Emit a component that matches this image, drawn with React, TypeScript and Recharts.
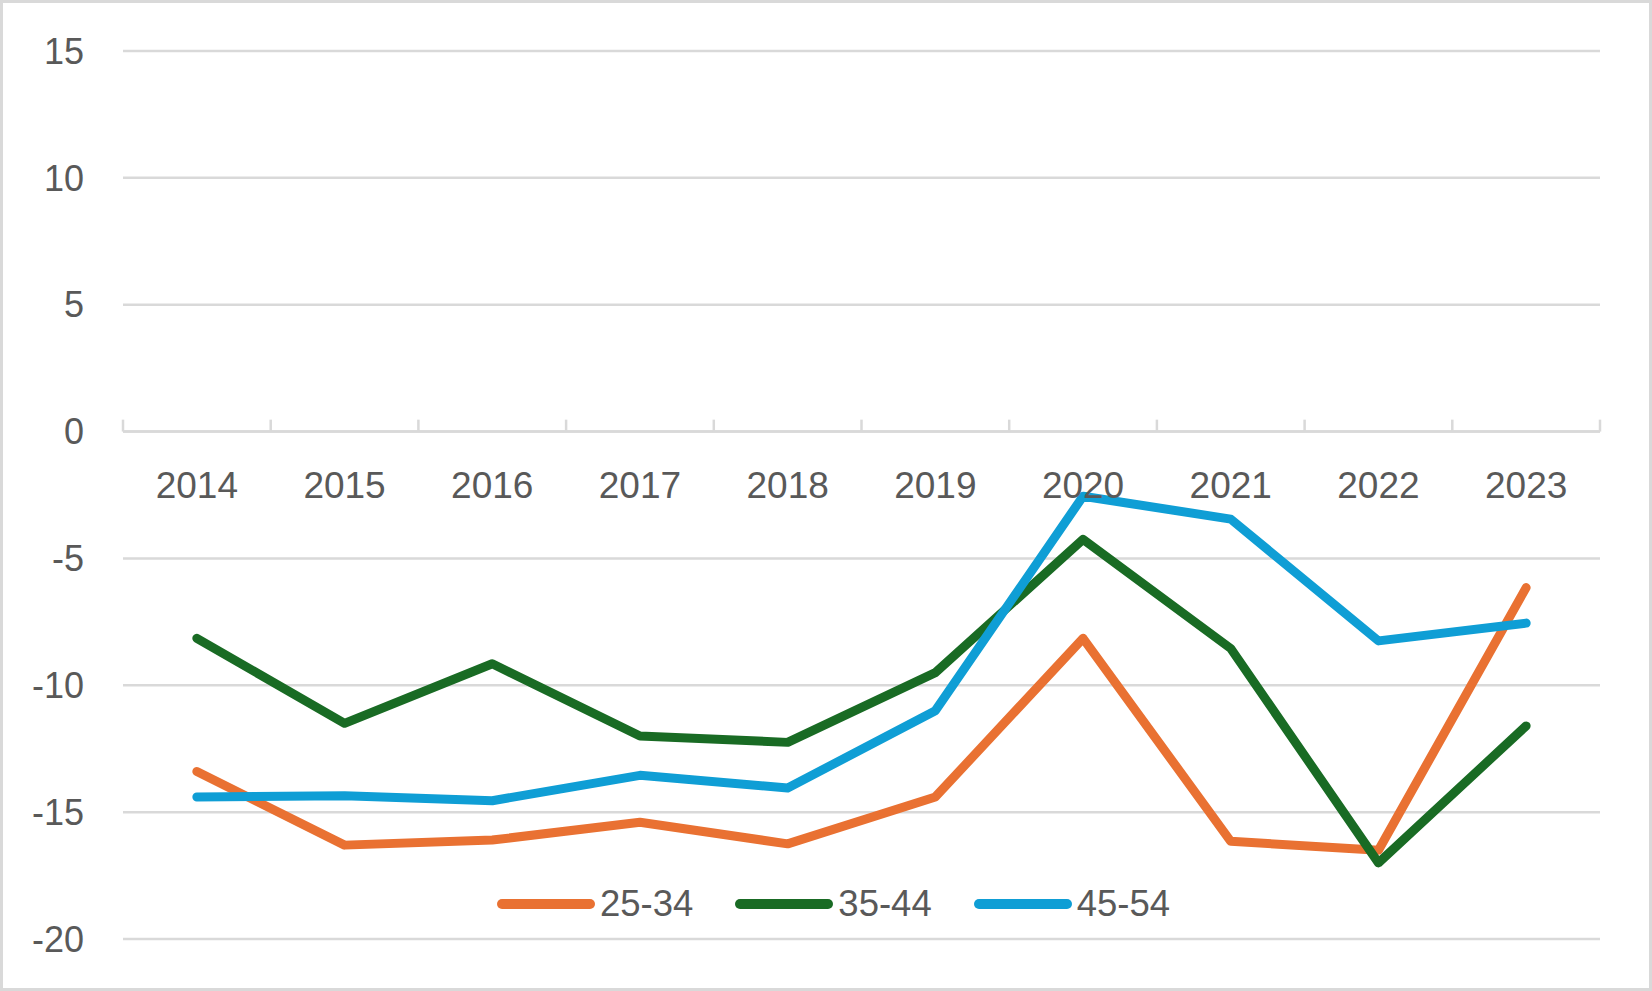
import React from "react";
import { LineChart, Line, XAxis, YAxis, CartesianGrid, ReferenceLine, Legend } from "recharts";

const years = ["2014", "2015", "2016", "2017", "2018", "2019", "2020", "2021", "2022", "2023"];
const s2534 = [-13.4, -16.3, -16.1, -15.4, -16.25, -14.4, -8.15, -16.15, -16.5, -6.15];
const s3544 = [-8.15, -11.5, -9.15, -12.0, -12.25, -9.5, -4.25, -8.55, -17.0, -11.6];
const s4554 = [-14.4, -14.35, -14.55, -13.55, -14.05, -11.0, -2.55, -3.45, -8.25, -7.55];
const yTicks = [-20, -15, -10, -5, 0, 5, 10, 15];

const data = years.map((y, i) => ({ x: i + 0.5, year: y, a: s2534[i], b: s3544[i], c: s4554[i] }));
const xCenters = years.map((_, i) => i + 0.5);
const boundaries = years.map((_, i) => i).concat([years.length]);

const W = 1652;
const H = 991;
const PLOT_TOP = 51;
const PLOT_BOTTOM = 939;
const PLOT_LEFT = 123;
const PLOT_RIGHT = 1600;
const Y_MIN = -20;
const Y_MAX = 15;
const FONT = "'Liberation Sans', Arial, sans-serif";
const TEXT = "#595959";
const GRID = "#d9d9d9";

const zeroY = PLOT_TOP + ((Y_MAX - 0) / (Y_MAX - Y_MIN)) * (PLOT_BOTTOM - PLOT_TOP);

const XTick = (props: any) => {
  const { x, payload } = props;
  const idx = Math.floor(Number(payload && payload.value));
  return (
    <text x={x} y={zeroY + 53} dy="0.355em" textAnchor="middle" fill={TEXT} fontSize={37} fontFamily={FONT}>
      {years[idx]}
    </text>
  );
};

const LegendContent = (props: any) => {
  const payload = props.payload || [];
  return (
    <div style={{ display: "flex", alignItems: "center", paddingLeft: 497, height: 40 }}>
      {payload.map((p: any, i: number) => (
        <div key={i} style={{ display: "flex", alignItems: "center", marginRight: 42 }}>
          <svg width={98} height={14} style={{ display: "block" }}>
            <line x1={5} y1={7} x2={93} y2={7} stroke={p.color} strokeWidth={10} strokeLinecap="round" />
          </svg>
          <span style={{ fontFamily: FONT, fontSize: 36.5, color: TEXT, marginLeft: 5, lineHeight: "40px" }}>{p.value}</span>
        </div>
      ))}
    </div>
  );
};

export default function App() {
  const yAxisWidth = 80;
  return (
    <div style={{ position: "absolute", left: 0, top: 0, width: W, height: H, background: "#fff" }}>
      <LineChart
        width={W}
        height={H}
        data={data}
        margin={{ top: PLOT_TOP, bottom: H - PLOT_BOTTOM - 1, left: PLOT_LEFT - yAxisWidth, right: W - PLOT_RIGHT }}
      >
        <CartesianGrid vertical={false} stroke={GRID} strokeWidth={2.5} />
        <XAxis
          type="number"
          dataKey="x"
          domain={[0, 10]}
          ticks={xCenters}
          axisLine={false}
          tickLine={false}
          height={1}
          tick={<XTick />}
          interval={0}
        />
        <YAxis
          type="number"
          domain={[Y_MIN, Y_MAX]}
          ticks={yTicks}
          width={yAxisWidth}
          axisLine={false}
          tickLine={false}
          tickSize={0}
          tickMargin={39}
          interval={0}
          tick={{ fill: TEXT, fontSize: 36, fontFamily: FONT }}
        />
        <ReferenceLine y={0} stroke={GRID} strokeWidth={2.5} />
        {boundaries.map((b) => (
          <ReferenceLine key={b} segment={[{ x: b, y: 0 }, { x: b, y: 0.47 }]} stroke={GRID} strokeWidth={2.5} />
        ))}
        <Line type="linear" dataKey="a" name="25-34" stroke="#E97132" strokeWidth={9} dot={false} strokeLinecap="round" strokeLinejoin="round" isAnimationActive={false} />
        <Line type="linear" dataKey="b" name="35-44" stroke="#196B24" strokeWidth={9} dot={false} strokeLinecap="round" strokeLinejoin="round" isAnimationActive={false} />
        <Line type="linear" dataKey="c" name="45-54" stroke="#0F9ED5" strokeWidth={9} dot={false} strokeLinecap="round" strokeLinejoin="round" isAnimationActive={false} />
        <Legend
          layout="horizontal"
          verticalAlign="middle"
          align="center"
          content={<LegendContent />}
          wrapperStyle={{ position: "absolute", top: 884, left: 0, width: W, height: 40 }}
        />
      </LineChart>
      <div style={{ position: "absolute", left: 0, top: 0, width: W, height: H, boxSizing: "border-box", border: `3px solid ${GRID}`, pointerEvents: "none" }} />
    </div>
  );
}
